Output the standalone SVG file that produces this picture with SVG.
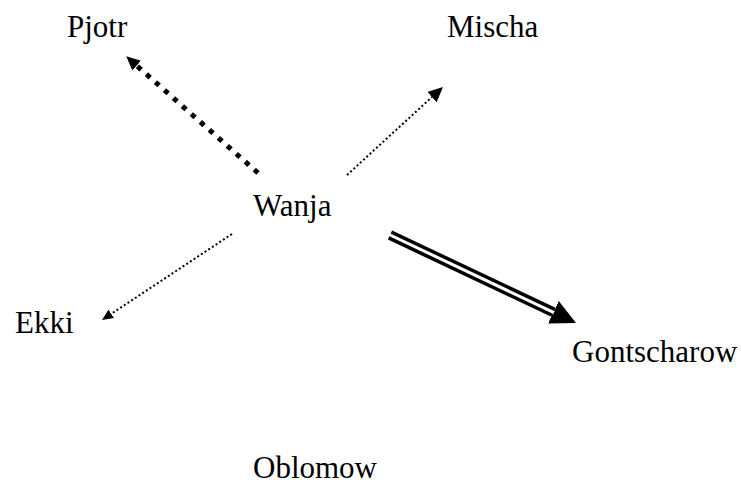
<svg xmlns="http://www.w3.org/2000/svg" width="741" height="485" viewBox="0 0 741 485">
<style>
text{font-family:"Liberation Serif","Times New Roman",serif;font-size:31px;fill:#000}
.thick{stroke:#000;stroke-width:5;stroke-dasharray:5 7;fill:none}
.fine{stroke:#000;stroke-width:2;stroke-dasharray:2 2.4;fill:none}
</style>
<defs>
<marker id="hBig" markerUnits="userSpaceOnUse" markerWidth="14" markerHeight="13" viewBox="0 0 14 13" refX="0" refY="6.5" orient="auto"><path d="M0,0 L14,6.5 L0,13 z" fill="#000"/></marker>
<marker id="hMid" markerUnits="userSpaceOnUse" markerWidth="15" markerHeight="14" viewBox="0 0 15 14" refX="0" refY="7" orient="auto"><path d="M0,0 L15,7 L0,14 z" fill="#000"/></marker>
<marker id="hSmall" markerUnits="userSpaceOnUse" markerWidth="11" markerHeight="10" viewBox="0 0 11 10" refX="0" refY="5" orient="auto"><path d="M0,0 L11,5 L0,10 z" fill="#000"/></marker>
<marker id="hDouble" markerUnits="userSpaceOnUse" markerWidth="25" markerHeight="25" viewBox="0 0 25 25" refX="0" refY="12.5" orient="auto"><path d="M0,0 L25,12.5 L0,25 z" fill="#000"/></marker>
</defs>
<g id="connectors">
<line class="thick" x1="258" y1="173" x2="136.7" y2="65.6" marker-end="url(#hBig)"/>
<line class="fine" x1="347" y1="175" x2="431.9" y2="97.1" marker-end="url(#hMid)"/>
<line class="fine" x1="232" y1="234" x2="111.2" y2="313.9" marker-end="url(#hSmall)"/>
<line x1="390" y1="235" x2="553.4" y2="312.3" stroke="#000" stroke-width="10" marker-end="url(#hDouble)"/>
<line x1="388" y1="234" x2="554" y2="312.6" stroke="#fff" stroke-width="3"/>
</g>
<g id="node-pjotr"><text x="67" y="37">Pjotr</text></g>
<g id="node-mischa"><text x="447" y="37">Mischa</text></g>
<g id="node-wanja"><text x="253" y="216">Wanja</text></g>
<g id="node-ekki"><text x="15" y="333">Ekki</text></g>
<g id="node-gontscharow"><text x="572" y="362">Gontscharow</text></g>
<g id="node-oblomow"><text x="253" y="478">Oblomow</text></g>
</svg>
